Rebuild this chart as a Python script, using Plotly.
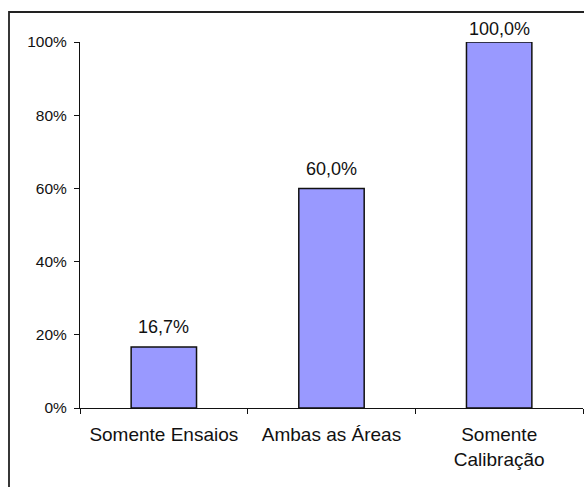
import plotly.graph_objects as go

# Share of labs by activity area
categories = ["Somente Ensaios", "Ambas as Áreas", "Somente<br>Calibração"]
values = [0.167, 0.600, 1.000]
value_labels = ["16,7%", "60,0%", "100,0%"]
label_offsets = [20, 19, 13]

W, H = 584, 487
ML, MR, MT, MB = 80, 1, 42, 79
pw, ph = W - ML - MR, H - MT - MB

font_family = "Liberation Sans, Arial, sans-serif"

fig = go.Figure()
fig.add_trace(go.Bar(
    x=categories,
    y=values,
    width=0.39,
    marker=dict(color="#9999FF", line=dict(color="#111111", width=1.5)),
    hoverinfo="skip",
))

for cat, v, txt, off in zip(categories, values, value_labels, label_offsets):
    fig.add_annotation(
        x=cat, y=v, text=txt, showarrow=False,
        yanchor="middle", yshift=off,
        font=dict(family=font_family, size=18, color="#111111"),
    )

# Outer chart frame (extends past the right and bottom edges of the page)
fig.add_shape(
    type="rect", xref="paper", yref="paper",
    x0=(9 - ML) / pw, x1=1.05,
    y0=-0.4, y1=(H - MB - 12) / ph,
    line=dict(color="#222222", width=1.8),
    layer="above",
)

fig.update_layout(
    width=W, height=H,
    margin=dict(l=ML, r=MR, t=MT, b=MB),
    paper_bgcolor="white", plot_bgcolor="white",
    showlegend=False,
    font=dict(family=font_family, color="#111111"),
    xaxis=dict(
        type="category",
        range=[-0.5, 2.5],
        showline=True, linecolor="#111111", linewidth=1.2,
        ticks="outside", tickson="boundaries", ticklen=5, tickcolor="#111111",
        ticklabelstandoff=9,
        showgrid=False,
        tickfont=dict(size=19, family=font_family, color="#111111"),
    ),
    yaxis=dict(
        range=[0, 1],
        tickvals=[0, 0.2, 0.4, 0.6, 0.8, 1.0],
        tickformat=".0%",
        showline=True, linecolor="#111111", linewidth=1.2,
        ticks="outside", ticklen=5, tickcolor="#111111",
        ticklabelstandoff=4,
        showgrid=False, zeroline=False,
        tickfont=dict(size=15.5, family=font_family, color="#111111"),
    ),
)

fig.write_html("out.html")
